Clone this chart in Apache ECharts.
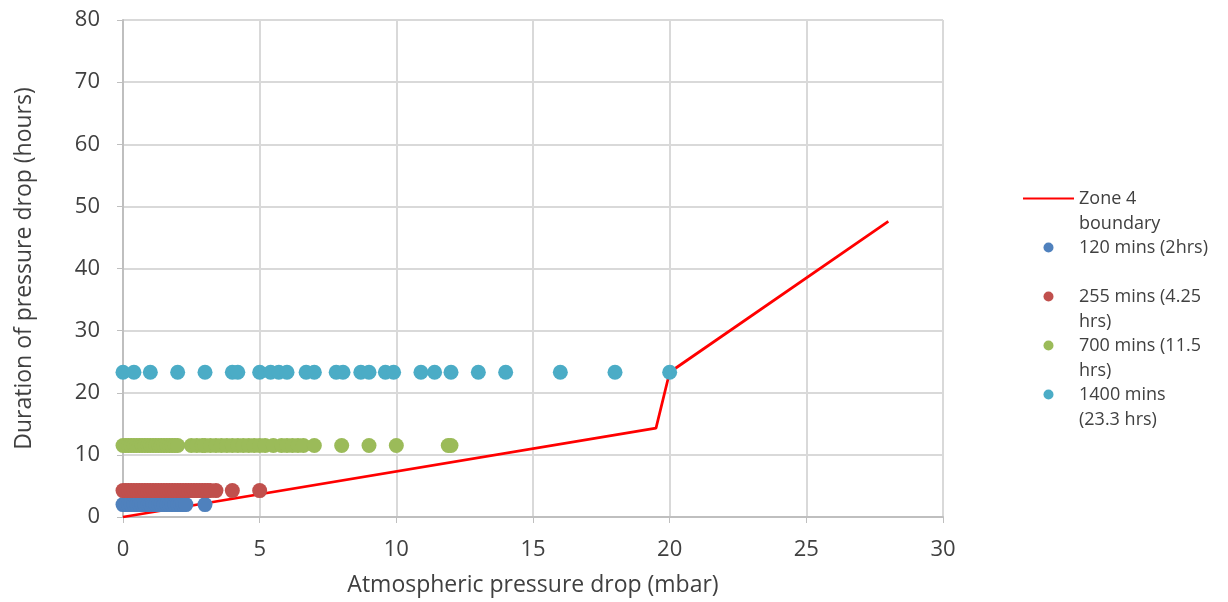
<!DOCTYPE html>
<html>
<head>
    <meta charset="utf-8" />
    <script src="https://cdn.jsdelivr.net/npm/echarts@6/dist/echarts.min.js"></script>
    <style>
        body { margin: 0; overflow: hidden; background: #fff; }
        #main { width: 1228px; height: 602px; }
    </style>
</head>
<body>
    <div id="main"></div>
<script type="text/javascript">
    // series names and legend labels (wrapped as in the original)
    var seriesNames = ['Zone 4 boundary', '120 mins (2hrs)', '255 mins (4.25 hrs)', '700 mins (11.5 hrs)', '1400 mins (23.3 hrs)'];
    var legendLabels = ['Zone 4\nboundary', '120 mins (2hrs)', '255 mins (4.25\nhrs)', '700 mins (11.5\nhrs)', '1400 mins\n(23.3 hrs)'];

    // zone 4 boundary line (mbar, hours)
    var boundaryX = [0, 19.5, 20, 28];
    var boundaryY = [0, 14.3, 23.3, 47.6];

    // pressure drops recorded for each duration
    var drops120 = [0, 0.1, 0.2, 0.3, 0.4, 0.5, 0.6, 0.7, 0.8, 0.9, 1.0, 1.1, 1.2, 1.3, 1.4, 1.5, 1.6, 1.7, 1.8, 1.9, 2.0, 2.1, 2.2, 2.3, 3.0];
    var drops255 = [0, 0.1, 0.2, 0.3, 0.4, 0.5, 0.6, 0.7, 0.8, 0.9, 1.0, 1.1, 1.2, 1.3, 1.4, 1.5, 1.6, 1.7, 1.8, 1.9, 2.0, 2.1, 2.2, 2.3, 2.4, 2.5, 2.6, 2.7, 2.8, 2.9, 3.0, 3.1, 3.2, 3.4, 4.0, 5.0];
    var drops700 = [0, 0.1, 0.2, 0.3, 0.4, 0.5, 0.6, 0.7, 0.8, 0.9, 1.0, 1.1, 1.2, 1.3, 1.4, 1.5, 1.6, 1.7, 1.8, 1.9, 2.0, 2.5, 2.7, 2.9, 3.0, 3.2, 3.4, 3.6, 3.8, 4.0, 4.2, 4.4, 4.6, 4.8, 5.0, 5.2, 5.5, 5.8, 6.0, 6.2, 6.4, 6.6, 7.0, 8.0, 9.0, 10.0, 11.9, 12.0];
    var drops1400 = [0, 0.4, 1.0, 2.0, 3.0, 4.0, 4.2, 5.0, 5.4, 5.7, 6.0, 6.7, 7.0, 7.8, 8.05, 8.7, 9.0, 9.6, 9.9, 10.9, 11.4, 12.0, 13.0, 14.0, 16.0, 18.0, 20.0];
    var durations = [2, 4.25, 11.5, 23.3];

    var colors = ['#ff0000', '#4f81bd', '#c0504d', '#9bbb59', '#4bacc6'];

    function pairs(xs, y) {
        return xs.map(function (x) { return [x, y]; });
    }

    var chart = echarts.init(document.getElementById('main'));

    var dropSets = [drops120, drops255, drops700, drops1400];
    var scatterSeries = dropSets.map(function (xs, i) {
        return {
            name: seriesNames[i + 1],
            type: 'scatter',
            symbolSize: 15,
            z: 3,
            itemStyle: { color: colors[i + 1], opacity: 1 },
            data: pairs(xs, durations[i])
        };
    });

    // each legend entry is three lines tall, first one empty, so the icon
    // lines up with the first line of text
    var legendData = seriesNames.map(function (name, i) {
        var item = { name: name };
        if (i === 0) item.itemStyle = { opacity: 0 };
        return item;
    });

    var option = {
        animation: false,
        textStyle: { fontFamily: 'Open Sans' },
        grid: { left: 123, right: 285, top: 20, bottom: 85 },
        legend: {
            orient: 'vertical',
            left: 1017,
            top: 156,
            itemWidth: 51,
            itemHeight: 10,
            itemGap: -26,
            data: legendData,
            formatter: function (name) {
                var label = legendLabels[seriesNames.indexOf(name)];
                if (label.indexOf('\n') < 0) label += '\n ';
                return ' \n' + label;
            },
            textStyle: {
                fontFamily: 'Open Sans',
                fontSize: 18,
                color: '#404040',
                lineHeight: 25
            }
        },
        xAxis: {
            type: 'value',
            min: 0, max: 30, interval: 5,
            name: 'Atmospheric pressure drop (mbar)',
            nameLocation: 'middle',
            nameGap: 57,
            nameTextStyle: { fontSize: 23, color: '#404040' },
            axisLine: { show: true, lineStyle: { color: '#bfbfbf', width: 2 } },
            axisTick: { show: true, length: 6, lineStyle: { color: '#bfbfbf' } },
            axisLabel: { fontSize: 22, color: '#404040', margin: 22 },
            splitLine: { show: true, lineStyle: { color: '#d9d9d9', width: 2 } }
        },
        yAxis: {
            type: 'value',
            min: 0, max: 80, interval: 10,
            name: 'Duration of pressure drop (hours)',
            nameLocation: 'middle',
            nameGap: 87,
            nameTextStyle: { fontSize: 23, color: '#404040' },
            axisLine: { show: true, lineStyle: { color: '#bfbfbf', width: 2 } },
            axisTick: { show: true, length: 6, lineStyle: { color: '#bfbfbf' } },
            axisLabel: { fontSize: 22, color: '#404040', margin: 23 },
            splitLine: { show: true, lineStyle: { color: '#d9d9d9', width: 2 } }
        },
        series: [{
            name: seriesNames[0],
            type: 'line',
            symbol: 'none',
            z: 2,
            lineStyle: { color: colors[0], width: 2.75 },
            itemStyle: { color: colors[0] },
            data: boundaryX.map(function (x, i) { return [x, boundaryY[i]]; })
        }].concat(scatterSeries)
    };

    chart.setOption(option);
</script>
</body>
</html>
